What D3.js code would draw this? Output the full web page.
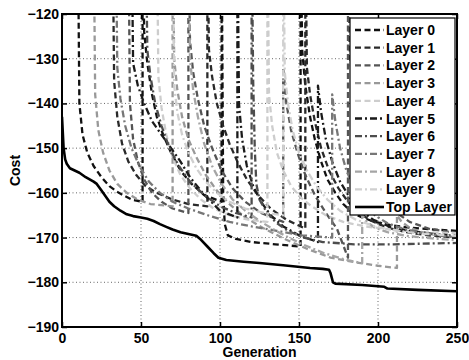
<!DOCTYPE html>
<html><head><meta charset="utf-8">
<script src="https://cdn.jsdelivr.net/npm/d3@7"></script>
<style>body{margin:0;background:#fff}svg{display:block}text{font-family:"Liberation Sans",Arial,sans-serif;font-weight:bold}</style>
</head><body><svg id="c" width="469" height="360"></svg>
<script>
// ---------------- data (generation, cost) ----------------
const xTicks = [0, 50, 100, 150, 200, 250];
const yTicks = [-190, -180, -170, -160, -150, -140, -130, -120];
const seriesNames = ["Layer 0","Layer 1","Layer 2","Layer 3","Layer 4","Layer 5","Layer 6","Layer 7","Layer 8","Layer 9","Top Layer"];

const layer0 = [[0,-100],[10,-100],[11,-140],[13,-147],[16,-151],[20,-154],[25,-156.5],[30,-158.5],[36,-160],[44,-161.5],[51,-162],
 [51,-100],[52,-124],[54,-131],[57,-138],[60,-143],[64,-147],[69,-151],[75,-155],[82,-158],[90,-160.5],[101,-162],
 [101,-100],[102,-160],[103,-167],[105,-169.5],[110,-170.3],[120,-171],[135,-171.5],[151,-172],
 [151,-100],[152,-128],[154,-136],[157,-143],[160,-148],[164,-153],[168,-157],[173,-160],[178,-162.5],[184,-164.5],[190,-165.5],[198,-166.5],[208,-167.2],[220,-167.8],[235,-168.2],[250,-168.5]];
const layer1 = [[0,-100],[32,-100],[33,-135],[35,-143],[38,-149],[42,-153],[47,-156],[53,-158.5],[60,-160],[70,-161.5],[80,-162.5],[92,-163],
 [92,-100],[93,-128],[95,-134],[98,-140],[102,-145],[106,-149],[111,-153],[117,-157],[124,-160.5],[132,-163.5],[142,-166],[154,-168],
 [154,-100],[155,-132],[157,-138],[160,-144],[164,-150],[169,-155],[175,-159],[181,-162],[188,-164.5],[196,-166.3],[206,-167.8],[218,-168.8],[232,-169.5],[250,-170]];
const layer2 = [[0,-100],[42,-100],[43,-140],[45,-148],[48,-153],[52,-157],[57,-160],[63,-162],[70,-163.5],[80,-164.5],
 [80,-100],[81,-126],[83,-133],[86,-139],[90,-145],[95,-150],[101,-155],[108,-159],[116,-162],[126,-164.5],[140,-166.5],
 [140,-132],[142,-140],[145,-146],[149,-151],[154,-156],[160,-160.5],[167,-164.5],[174,-168],[181,-174.5],
 [181,-100],[182,-128],[184,-136],[187,-143],[191,-150],[196,-156],[202,-160.5],[210,-164],[220,-166.5],[232,-168],[250,-169]];
const layer3 = [[0,-100],[20,-100],[21,-138],[23,-146],[26,-151],[30,-155],[35,-158],[41,-160],[48,-161.5],[56,-162.5],[70,-163],
 [70,-100],[71,-130],[73,-137],[76,-143],[80,-148],[85,-152],[91,-156],[98,-159.5],[106,-162.5],[116,-165.5],[128,-168],[142,-170.5],[155,-172.5],[170,-174.5],[185,-175.5],[200,-176.3],[212,-176.8],
 [212,-165],[215,-166.5],[220,-167.8],[228,-168.8],[238,-169.5],[250,-170]];
const layer4 = [[0,-100],[60,-100],[61,-134],[63,-141],[66,-147],[70,-152],[75,-156],[81,-159],[88,-161.5],[96,-163.5],[106,-165],[118,-166],[130,-166.5],
 [130,-100],[131,-138],[133,-145],[136,-151],[140,-155],[145,-158.5],[151,-161],[158,-163],[167,-165],[178,-166.5],[192,-167.5],[210,-168.3],[230,-168.8],[250,-169]];
const layer5 = [[0,-100],[44,-100],[45,-131],[48,-136],[52,-140],[57,-144],[63,-147],[68,-149.5],[75,-153],[81,-156.5],[89,-160],[100,-164],[111,-165.5],
 [111,-100],[112,-140],[114,-148],[117,-154],[121,-158.5],[126,-162],[132,-165],[140,-167.5],[150,-169.5],[162,-171],
 [162,-136],[164,-142],[167,-148],[171,-153],[176,-157.5],[182,-161],[189,-164],[197,-166],[207,-167.5],[220,-168.5],[235,-169.2],[250,-169.6]];
const layer6 = [[0,-100],[53,-100],[54,-128],[56,-134],[59,-140],[63,-145],[68,-150],[74,-154],[81,-157.5],[90,-160.5],[100,-163],[110,-164.5],[120,-165.5],
 [120,-100],[121,-135],[122,-150],[123,-158],[125,-161.5],[129,-164],[135,-166.5],[143,-168.5],[153,-170],[165,-171],[185,-171.5],[210,-171.5],[250,-171.2]];
const layer7 = [[0,-100],[34,-100],[35,-132],[37,-139],[40,-145],[44,-150],[49,-154],[55,-157.5],[62,-160],[70,-162],[80,-163.5],[92,-165],[106,-166.5],[120,-167.5],[136,-168.5],[152,-169.5],[171,-170],
 [171,-138],[173,-144],[176,-150],[180,-155],[185,-159],[191,-162.5],[198,-165],[206,-166.8],[216,-168],[228,-169],[240,-169.6],[250,-170]];
const layer8 = [[0,-100],[80,-100],[81,-130],[83,-137],[86,-143],[90,-149],[95,-154],[101,-158],[108,-161.5],[116,-164],[126,-166.5],[138,-169],[152,-171.5],[166,-173.5],[180,-175],[190,-175.7],
 [190,-165],[193,-166.5],[198,-167.8],[206,-168.8],[218,-169.6],[234,-170.2],[250,-170.6]];
const layer9 = [[0,-100],[70,-100],[71,-136],[73,-142],[76,-147],[80,-151],[85,-154.5],[91,-157.5],[98,-160],[106,-162],[116,-163.5],[128,-164.5],[140,-165],
 [140,-100],[141,-133],[143,-140],[146,-146],[150,-151],[155,-155],[161,-158.5],[168,-161.5],[176,-164],[186,-166],[198,-167.5],[212,-168.5],[230,-169.2],[250,-169.6]];
const topLayer = [[0,-143],[1,-150],[2,-152.5],[3,-153.5],[5,-154.5],[8,-155],[11,-155.5],[15,-156.5],[20,-157.5],[22,-158],[25,-159.5],[28,-161],[30,-162],[33,-163],[37,-164],[41,-164.8],[45,-165.2],[50,-165.5],[54,-165.8],[58,-166.3],[62,-167],[66,-167.6],[70,-168.2],[75,-168.8],[80,-169.2],[85,-169.6],[88,-170.5],[92,-172],[96,-173.5],[99,-174.5],[104,-175],[115,-175.4],[125,-175.7],[140,-176.2],[157,-176.8],[165,-177],[169,-177.2],[170,-178],[171.5,-180],[173,-180.3],[190,-180.6],[200,-180.9],[204,-181],[206,-181.4],[225,-181.7],[250,-182]];

const allSeries = [layer0, layer1, layer2, layer3, layer4, layer5, layer6, layer7, layer8, layer9, topLayer];

// ---------------- styles ----------------
const DASH = "6,3.5", DASHDOT = "7,3,2,3";
const styles = [
  {c:"#111", d:DASH}, {c:"#2a2a2a", d:DASH}, {c:"#555", d:DASH}, {c:"#999", d:DASH}, {c:"#cdcdcd", d:DASH},
  {c:"#1a1a1a", d:DASHDOT}, {c:"#4d4d4d", d:DASHDOT}, {c:"#777", d:DASHDOT}, {c:"#a5a5a5", d:DASHDOT}, {c:"#d0d0d0", d:DASHDOT},
  {c:"#000", d:null, w:2.6}
];

const svg = d3.select("#c");
const L = 62, R = 457, T = 14, B = 327;
const x = d3.scaleLinear().domain([0, 250]).range([L, R]);
const y = d3.scaleLinear().domain([-190, -120]).range([B, T]);

// grid
const grid = svg.append("g");
grid.selectAll(".gx").data(xTicks.slice(1, -1)).join("line")
  .attr("x1", d => x(d)).attr("x2", d => x(d)).attr("y1", T).attr("y2", B)
  .attr("stroke", "#666").attr("stroke-width", 1).attr("stroke-dasharray", "1,2.5");
grid.selectAll(".gy").data(yTicks.slice(1, -1)).join("line")
  .attr("y1", d => y(d)).attr("y2", d => y(d)).attr("x1", L).attr("x2", R)
  .attr("stroke", "#666").attr("stroke-width", 1).attr("stroke-dasharray", "1,2.5");

// clip
svg.append("clipPath").attr("id", "clip").append("rect")
  .attr("x", L).attr("y", T).attr("width", R - L).attr("height", B - T);

const line = d3.line().x(d => x(d[0])).y(d => y(d[1]));
const plot = svg.append("g").attr("clip-path", "url(#clip)");
allSeries.forEach((s, i) => {
  const st = styles[i];
  plot.append("path").datum(s).attr("d", line).attr("fill", "none")
    .attr("stroke", st.c).attr("stroke-width", st.w || 2.3)
    .attr("stroke-dasharray", st.d).attr("stroke-linejoin", "round");
});

// axes
const fs = "14px";
const ax = svg.append("g").attr("transform", `translate(0,${B})`)
  .call(d3.axisBottom(x).tickValues(xTicks).tickSize(-5).tickPadding(6));
const axT = svg.append("g").attr("transform", `translate(0,${T})`)
  .call(d3.axisTop(x).tickValues(xTicks).tickSize(-5).tickFormat(""));
const ay = svg.append("g").attr("transform", `translate(${L},0)`)
  .call(d3.axisLeft(y).tickValues(yTicks).tickSize(-5).tickPadding(3));
const ayR = svg.append("g").attr("transform", `translate(${R},0)`)
  .call(d3.axisRight(y).tickValues(yTicks).tickSize(-5).tickFormat(""));
[ax, axT, ay, ayR].forEach(g => {
  g.select(".domain").remove();
  g.selectAll(".tick line").attr("stroke", "#000").attr("stroke-width", 1.5);
  g.selectAll("text").attr("font-size", fs).attr("fill", "#000")
    .style("font-family", '"Liberation Sans",Arial,sans-serif').style("font-weight", "bold");
});
svg.append("rect").attr("x", L).attr("y", T).attr("width", R - L).attr("height", B - T)
  .attr("fill", "none").attr("stroke", "#000").attr("stroke-width", 2);

// labels
svg.append("text").attr("x", (L + R) / 2).attr("y", 357).attr("text-anchor", "middle")
  .attr("font-size", fs).text("Generation");
svg.append("text").attr("transform", `translate(20,${(T + B) / 2}) rotate(-90)`)
  .attr("text-anchor", "middle").attr("font-size", fs).text("Cost");

// legend
const lg = svg.append("g");
lg.append("rect").attr("x", 350).attr("y", 18).attr("width", 105).attr("height", 197)
  .attr("fill", "#fff").attr("stroke", "#000").attr("stroke-width", 1.2);
const ly = d3.scaleLinear().domain([0, 10]).range([30, 207]);
seriesNames.forEach((n, i) => {
  const st = styles[i];
  lg.append("line").attr("x1", 355).attr("x2", 384).attr("y1", ly(i)).attr("y2", ly(i))
    .attr("stroke", st.c).attr("stroke-width", st.w || 2.3).attr("stroke-dasharray", st.d);
  lg.append("text").attr("x", 386).attr("y", ly(i)).attr("dy", "0.36em")
    .attr("font-size", fs).text(n);
});
</script></body></html>
